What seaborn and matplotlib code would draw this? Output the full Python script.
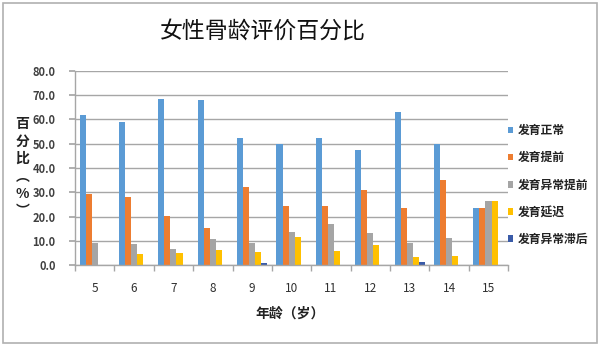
import numpy as np
import pandas as pd
import seaborn as sns
import matplotlib
matplotlib.use("Agg")
import matplotlib.pyplot as plt
from matplotlib.patches import Rectangle

ages = ["5", "6", "7", "8", "9", "10", "11", "12", "13", "14", "15"]
series_names = ["发育正常", "发育提前", "发育异常提前", "发育延迟", "发育异常滞后"]
normal = [61.9, 59.1, 68.3, 67.9, 52.2, 49.9, 52.5, 47.4, 63.2, 49.9, 23.4]
early = [29.3, 28.2, 20.3, 15.1, 32.3, 24.5, 24.5, 31.1, 23.4, 35.1, 23.4]
abn_early = [9.2, 8.5, 6.6, 10.9, 9.2, 13.6, 16.9, 13.3, 9.2, 11.0, 26.4]
delayed = [0.0, 4.4, 4.8, 6.0, 5.2, 11.7, 5.9, 8.2, 3.4, 3.8, 26.4]
abn_late = [0.0, 0.0, 0.0, 0.0, 0.8, 0.0, 0.0, 0.0, 1.2, 0.0, 0.0]
colors = ["#5B9BD5", "#ED7D31", "#A5A5A5", "#FFC000", "#3A5BA8"]
yticks = [0, 10, 20, 30, 40, 50, 60, 70, 80]

sns.set_theme(style="white")
plt.rcParams['font.family'] = ['Noto Sans CJK SC', 'DejaVu Sans']

rows = []
for name, vals in zip(series_names, [normal, early, abn_early, delayed, abn_late]):
    for a, v in zip(ages, vals):
        rows.append({"age": a, "value": v, "type": name})
df = pd.DataFrame(rows)

fig = plt.figure(figsize=(6.0, 3.46), dpi=100)
ax = fig.add_axes([0.125, 0.234, 0.722, 0.561])

sns.barplot(data=df, x="age", y="value", hue="type", order=ages,
            hue_order=series_names, palette=colors, width=0.77,
            saturation=1, errorbar=None, ax=ax, linewidth=0)

ax.set_ylim(0, 80)
ax.set_xlim(-0.5, len(ages) - 0.5)
ax.set_yticks(yticks)
ax.set_yticklabels([f"{v:.1f}" for v in yticks], fontsize=8, fontweight="bold", color="#404040")
ax.yaxis.grid(True, color="#A6A6A6", linewidth=1.0)
ax.set_axisbelow(True)

ax.set_xticks(range(len(ages)))
ax.set_xticklabels(ages, fontsize=8.5, color="#303030")
ax.set_xticks(np.arange(-0.5, len(ages), 1.0), minor=True)
ax.tick_params(axis="x", which="major", length=0, pad=12)
ax.tick_params(axis="x", which="minor", length=4, color="#A6A6A6", direction="out", bottom=True)
ax.tick_params(axis="y", length=4, color="#A6A6A6", direction="out", left=True, pad=10)

for s in ["top", "right"]:
    ax.spines[s].set_visible(False)
for s in ["left", "bottom"]:
    ax.spines[s].set_color("#A6A6A6")
    ax.spines[s].set_linewidth(1.0)

ax.set_xlabel("")
ax.set_ylabel("")

fig.text(0.483, 0.095, "年龄（岁）", ha="center", va="center", fontsize=10, fontweight="bold", color="#222222")
fig.text(0.037, 0.515, "百\n分\n比\n︵\n%\n︶", ha="center", va="center", fontsize=10,
         fontweight="bold", color="#222222", linespacing=1.32)
fig.text(0.438, 0.91, "女性骨龄评价百分比", ha="center", va="center", fontsize=16.5, color="#111111")

handles, labels = ax.get_legend_handles_labels()
ax.legend(handles, labels, loc="upper left", bbox_to_anchor=(0.838, 0.655),
          bbox_transform=fig.transFigure, frameon=False, fontsize=8.5,
          handlelength=0.5, handleheight=0.5, handletextpad=0.4,
          labelspacing=1.2, borderaxespad=0)
for t in ax.get_legend().get_texts():
    t.set_color("#222222")
    t.set_fontweight("bold")

fig.patches.append(Rectangle((0.005, 0.01), 0.99, 0.982, transform=fig.transFigure,
                             fill=False, edgecolor="#B0B0B0", linewidth=1.2))

fig.savefig("out.png", dpi=100, facecolor="white")
